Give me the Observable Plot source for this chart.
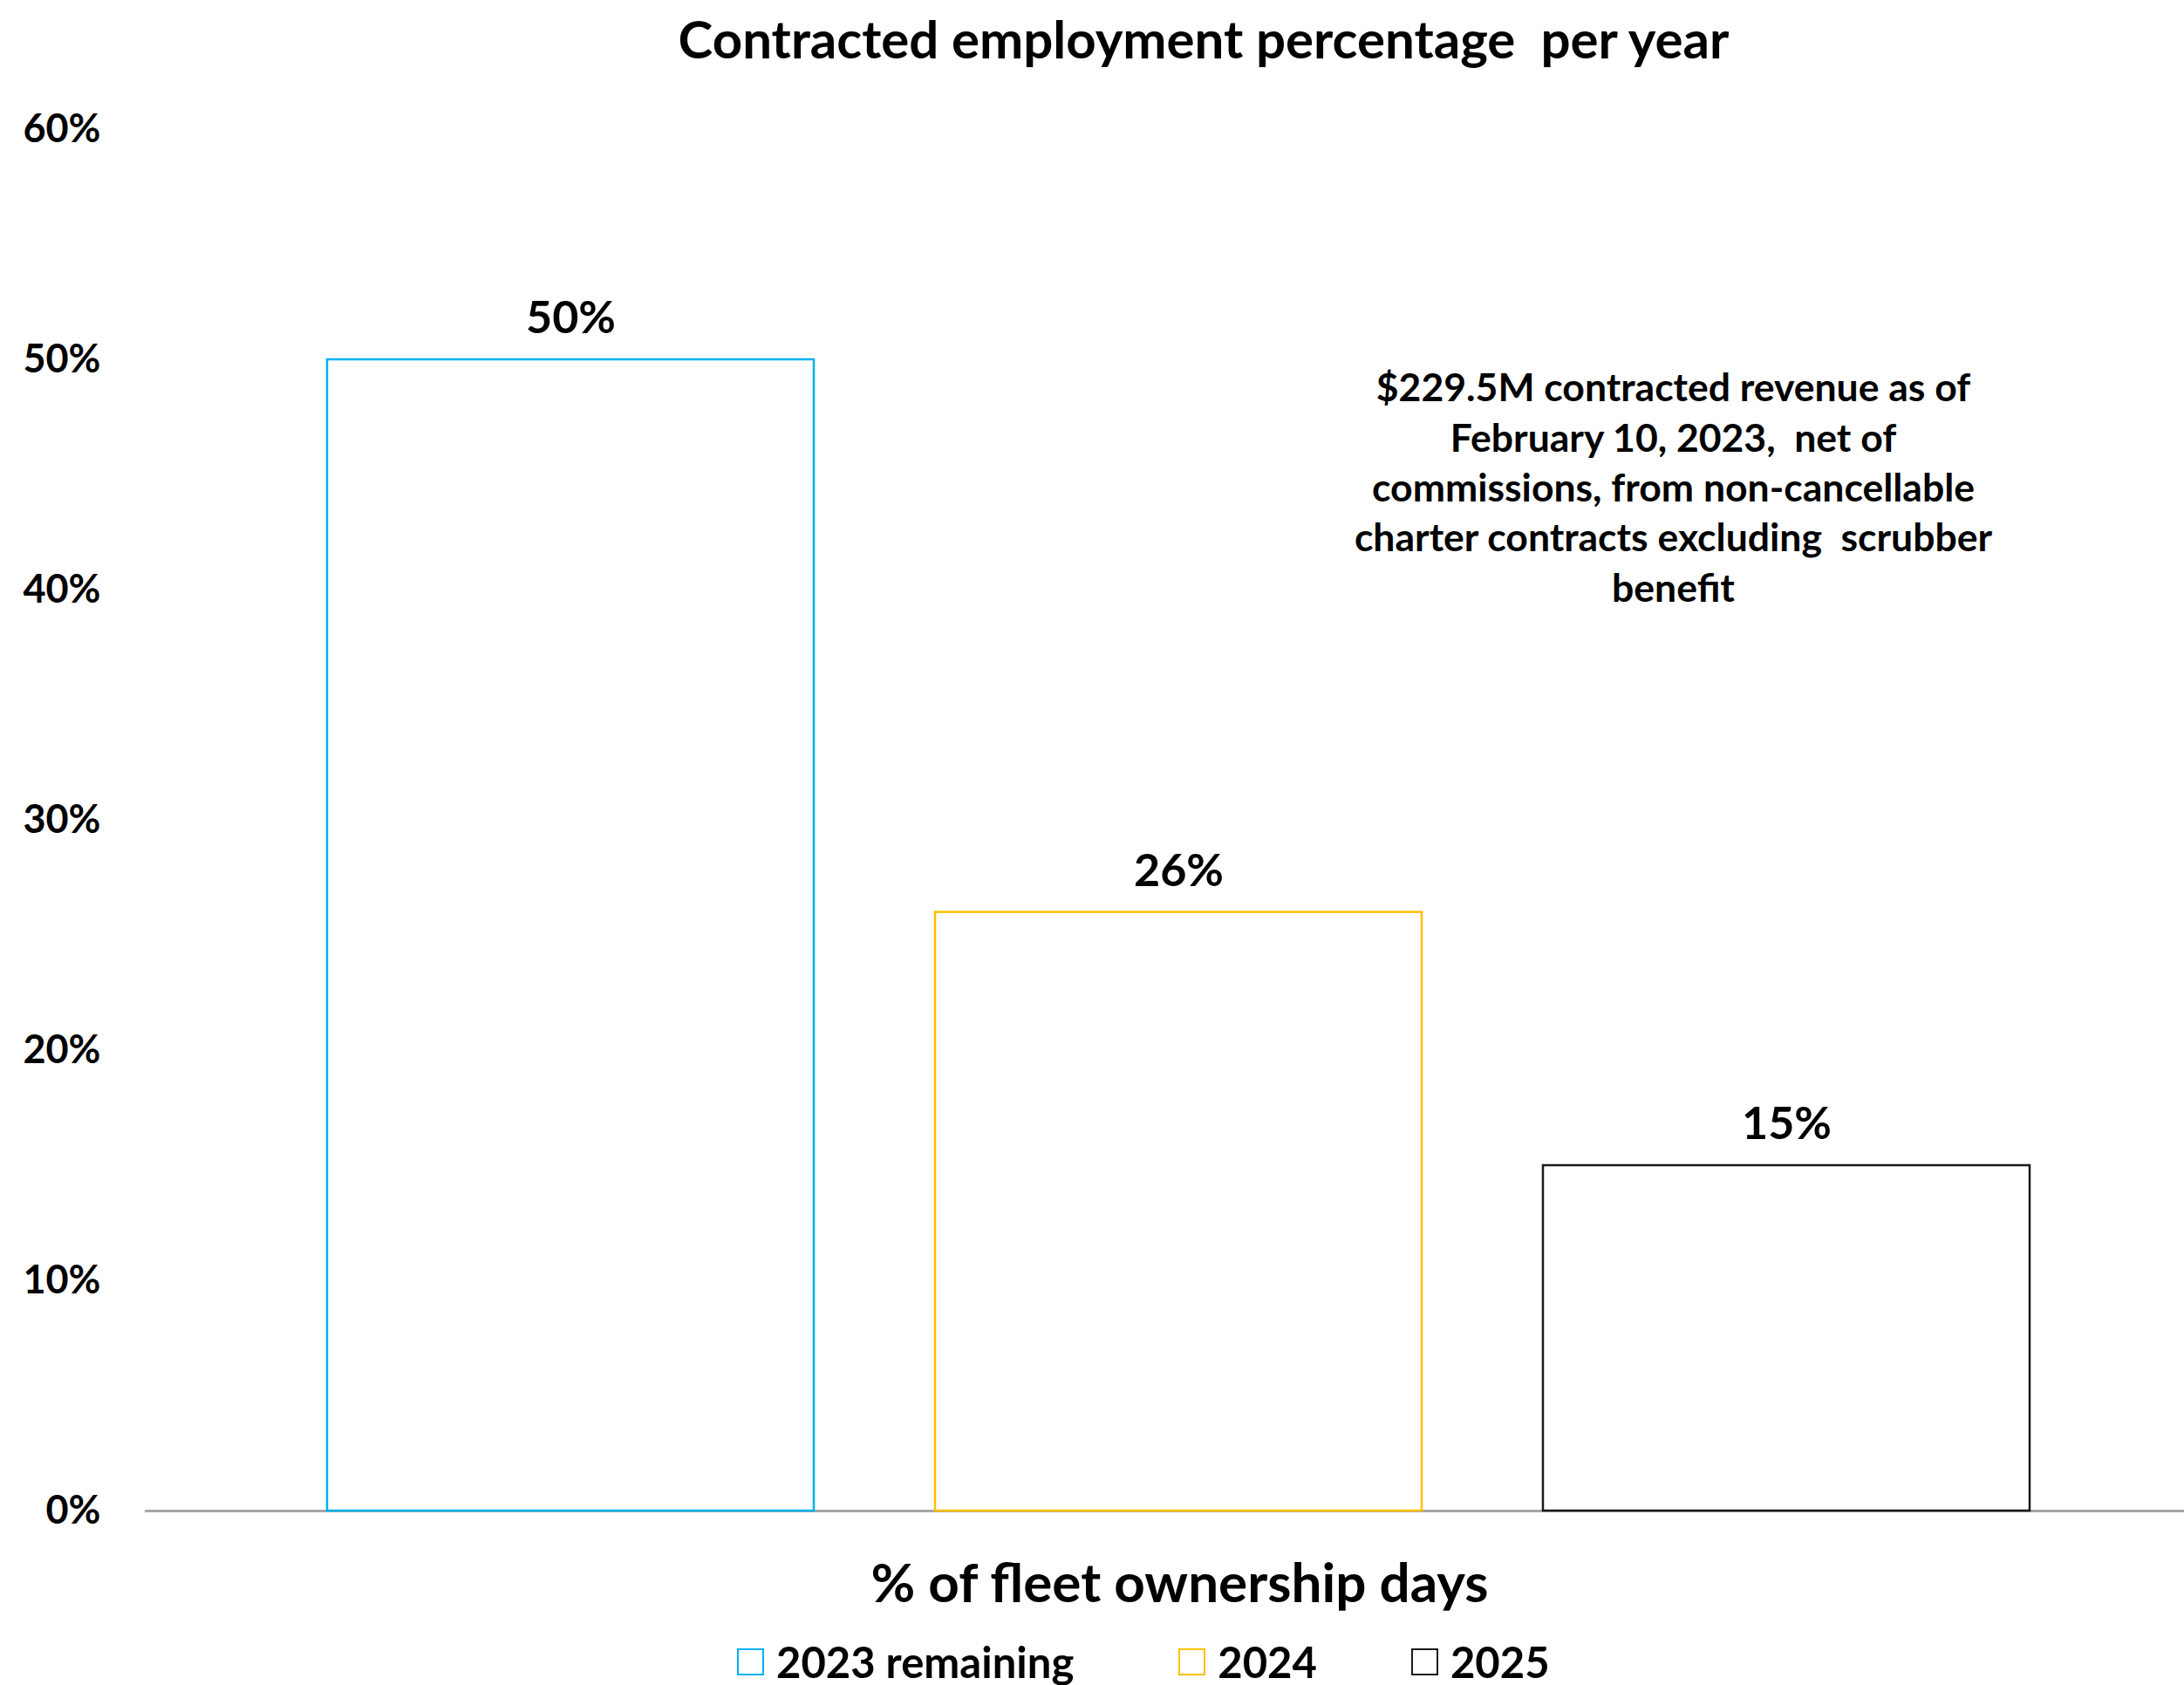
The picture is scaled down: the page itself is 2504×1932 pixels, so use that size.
<!DOCTYPE html>
<html>
<head>
<meta charset="utf-8">
<script src="https://cdn.jsdelivr.net/npm/d3@7"></script>
<script src="https://cdn.jsdelivr.net/npm/@observablehq/plot@0.6"></script>
<style>
  html, body { margin: 0; padding: 0; background: #fff; }
  body { width: 2504px; height: 1932px; overflow: hidden; font-family: Lato, "Open Sans", sans-serif; font-weight: bold; color: #000; }
  #title { height: 95px; box-sizing: border-box; padding-left: 256px; text-align: center; font-size: 60px; line-height: 60px; padding-top: 14px; }
  #chart svg { display: block; }
  #legend { height: 62px; box-sizing: border-box; padding-top: 8px; display: flex; align-items: center; padding-left: 845px; font-size: 49px; }
  .item { display: flex; align-items: center; margin-right: 120px; }
  .item:nth-child(2) { margin-right: 108px; }
  .sw { width: 27px; height: 27px; border: 2px solid; background: #fff; margin-right: 14px; }
</style>
</head>
<body>
<div id="title"></div>
<div id="chart"></div>
<div id="legend"></div>
<script>
const titleText = "Contracted employment percentage\u00a0 per year";
const categories = ["2023 remaining", "2024", "2025"];
const values = [0.50, 0.26, 0.15];
const valueLabels = ["50%", "26%", "15%"];
const colors = ["#00B0F0", "#FFC000", "#1a1a1a"];
const yTicks = [0, 0.1, 0.2, 0.3, 0.4, 0.5, 0.6];
const xLabel = "% of fleet ownership days";
const annotation = "$229.5M contracted revenue as of\nFebruary 10, 2023,\u00a0 net of\ncommissions, from non-cancellable\ncharter contracts excluding\u00a0 scrubber\nbenefit";

const data = categories.map((c, i) => ({cat: c, value: values[i], label: valueLabels[i]}));

document.getElementById("title").textContent = titleText;

const chart = Plot.plot({
  width: 2504,
  height: 1775,
  marginLeft: 166,
  marginRight: 0,
  marginTop: 53,
  marginBottom: 138,
  style: {fontFamily: "Lato, 'Open Sans', sans-serif", fontWeight: "bold", color: "#000", background: "#fff"},
  x: {domain: categories, range: [375, 2327], paddingInner: 0.2, paddingOuter: 0, axis: null},
  y: {domain: [0, 0.6]},
  color: {domain: categories, range: colors},
  marks: [
    Plot.axisY({ticks: yTicks, tickFormat: d3.format(".0%"), tickSize: 0, tickPadding: 51, fontSize: 45, label: null}),
    Plot.ruleY([0], {stroke: "#a6a6a6", strokeWidth: 3}),
    Plot.barY(data, {x: "cat", y: "value", fill: "white", stroke: "cat", strokeWidth: 2.5}),
    Plot.text(data, {x: "cat", y: "value", text: "label", dy: -47, fontSize: 52, fill: "#000"}),
    Plot.text([annotation], {frameAnchor: "top", dx: 583, dy: 271, fontSize: 44.5, lineHeight: 1.29, fill: "#000"}),
    Plot.text([xLabel], {frameAnchor: "bottom", dx: 17, dy: 104, fontSize: 62, fill: "#000"})
  ]
});
document.getElementById("chart").appendChild(chart);

const legend = document.getElementById("legend");
categories.forEach((c, i) => {
  const item = document.createElement("div");
  item.className = "item";
  const sw = document.createElement("div");
  sw.className = "sw";
  sw.style.borderColor = colors[i];
  const t = document.createElement("span");
  t.textContent = c;
  item.appendChild(sw);
  item.appendChild(t);
  legend.appendChild(item);
});
</script>
</body>
</html>
